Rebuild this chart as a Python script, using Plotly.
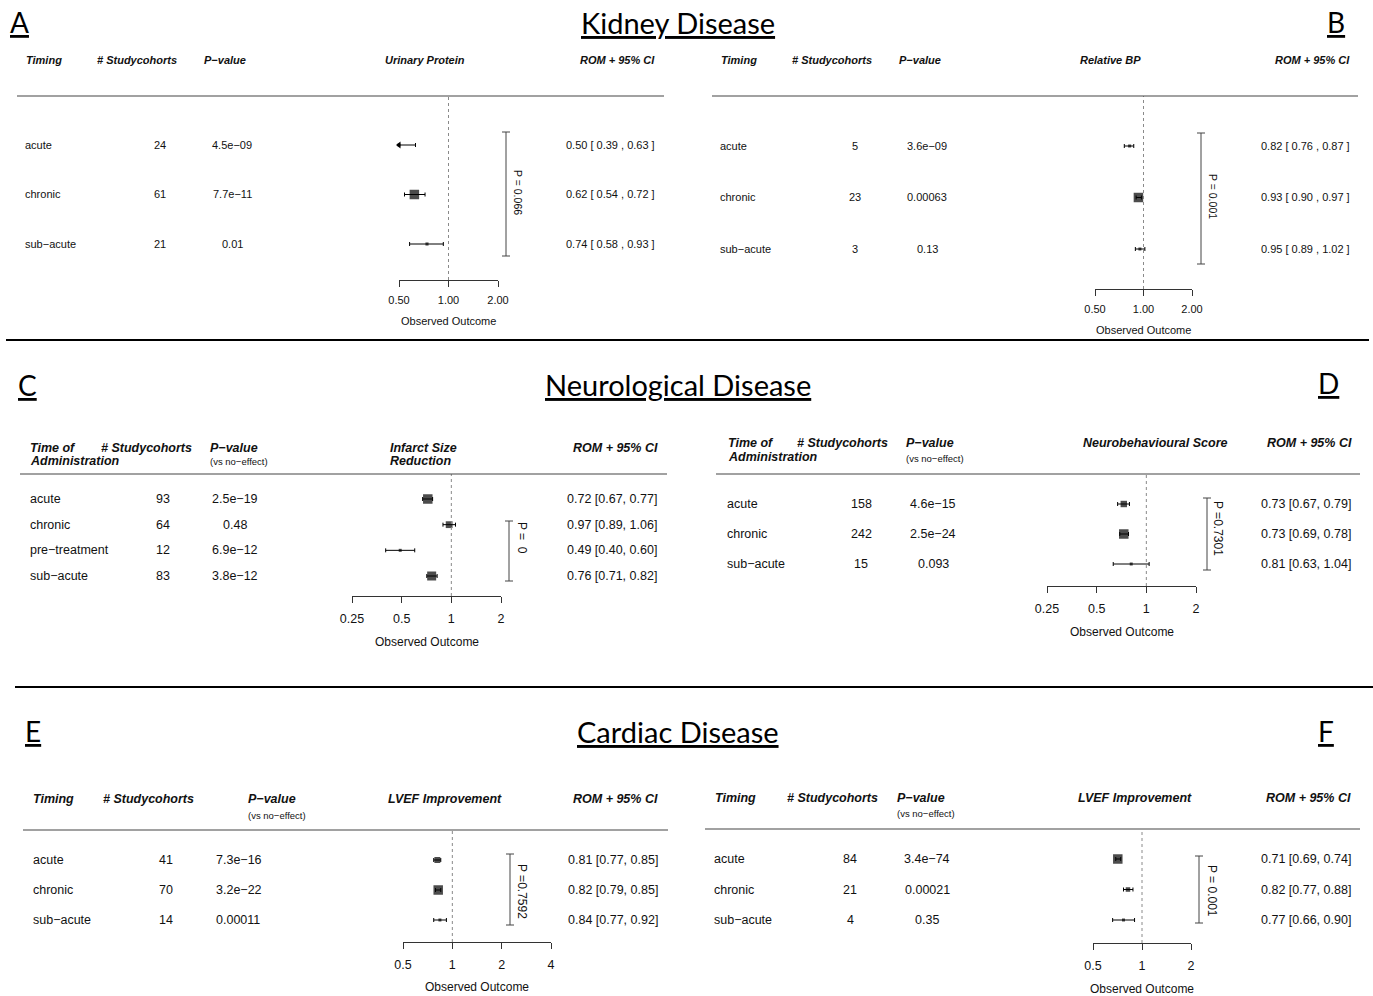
import math
import plotly.graph_objects as go

W, H = 1373, 996

# ---------------- data ----------------
A_timing = ["acute", "chronic", "sub−acute"]
A_n = [24, 61, 21]
A_p = ["4.5e−09", "7.7e−11", "0.01"]
A_rom = [0.50, 0.62, 0.74]
A_lo = [0.39, 0.54, 0.58]
A_hi = [0.63, 0.72, 0.93]
A_het = "P = 0.066"
A_outcome = ["Urinary Protein"]
A_ticks = [0.5, 1, 2]
A_ticklabels = ["0.50", "1.00", "2.00"]

B_timing = ["acute", "chronic", "sub−acute"]
B_n = [5, 23, 3]
B_p = ["3.6e−09", "0.00063", "0.13"]
B_rom = [0.82, 0.93, 0.95]
B_lo = [0.76, 0.90, 0.89]
B_hi = [0.87, 0.97, 1.02]
B_het = "P = 0.001"
B_outcome = ["Relative BP"]
B_ticks = [0.5, 1, 2]
B_ticklabels = ["0.50", "1.00", "2.00"]

C_timing = ["acute", "chronic", "pre−treatment", "sub−acute"]
C_n = [93, 64, 12, 83]
C_p = ["2.5e−19", "0.48", "6.9e−12", "3.8e−12"]
C_rom = [0.72, 0.97, 0.49, 0.76]
C_lo = [0.67, 0.89, 0.40, 0.71]
C_hi = [0.77, 1.06, 0.60, 0.82]
C_het = "P =  0"
C_outcome = ["Infarct Size", "Reduction"]
C_ticks = [0.25, 0.5, 1, 2]
C_ticklabels = ["0.25", "0.5", "1", "2"]

D_timing = ["acute", "chronic", "sub−acute"]
D_n = [158, 242, 15]
D_p = ["4.6e−15", "2.5e−24", "0.093"]
D_rom = [0.73, 0.73, 0.81]
D_lo = [0.67, 0.69, 0.63]
D_hi = [0.79, 0.78, 1.04]
D_het = "P =0.7301"
D_outcome = ["Neurobehavioural Score"]
D_ticks = [0.25, 0.5, 1, 2]
D_ticklabels = ["0.25", "0.5", "1", "2"]

E_timing = ["acute", "chronic", "sub−acute"]
E_n = [41, 70, 14]
E_p = ["7.3e−16", "3.2e−22", "0.00011"]
E_rom = [0.81, 0.82, 0.84]
E_lo = [0.77, 0.79, 0.77]
E_hi = [0.85, 0.85, 0.92]
E_het = "P =0.7592"
E_outcome = ["LVEF Improvement"]
E_ticks = [0.5, 1, 2, 4]
E_ticklabels = ["0.5", "1", "2", "4"]

F_timing = ["acute", "chronic", "sub−acute"]
F_n = [84, 21, 4]
F_p = ["3.4e−74", "0.00021", "0.35"]
F_rom = [0.71, 0.82, 0.77]
F_lo = [0.69, 0.77, 0.66]
F_hi = [0.74, 0.88, 0.90]
F_het = "P = 0.001"
F_outcome = ["LVEF Improvement"]
F_ticks = [0.5, 1, 2]
F_ticklabels = ["0.5", "1", "2"]

SECTION_TITLES = ["Kidney Disease", "Neurological Disease", "Cardiac Disease"]
PANEL_LETTERS = ["A", "B", "C", "D", "E", "F"]

# ---------------- styling / layout ----------------
SANS = "Liberation Sans, Arial, Helvetica, sans-serif"
TITLE_FONT = "Lato, Carlito, Calibri, sans-serif"
INK = "#111111"
AXC = "#333333"


def px(x):
    return x / W


def py(y):
    return 1 - y / H


def bi(t):
    return "<b><i>" + t + "</i></b>"


panels = [
    dict(timing=A_timing, n=A_n, p=A_p, rom=A_rom, lo=A_lo, hi=A_hi, het=A_het,
         ticks=A_ticks, ticklabels=A_ticklabels, wide=True,
         ax=(399, 498), line=280, top=96, rows=(145, 244), hline=(17, 664),
         cols=(23, 160, 232, 657), p_anchor="center", bracket=(506, 132, 256),
         hetpos=(518, 192), obs=321, fs=11, hfs=11, tfs=11, ofs=11, tso=4,
         headers=[(bi("Timing"), 24, 60, "left", "h"),
                  (bi("# Studycohorts"), 137, 60, "center", "h"),
                  (bi("P−value"), 225, 60, "center", "h"),
                  (bi(A_outcome[0]), 425, 60, "center", "h"),
                  (bi("ROM + 95% CI"), 657, 60, "right", "h")]),
    dict(timing=B_timing, n=B_n, p=B_p, rom=B_rom, lo=B_lo, hi=B_hi, het=B_het,
         ticks=B_ticks, ticklabels=B_ticklabels, wide=True,
         ax=(1095, 1192), line=289, top=96, rows=(146, 249), hline=(712, 1358),
         cols=(718, 855, 927, 1352), p_anchor="center", bracket=(1201, 133, 264),
         hetpos=(1213, 196), obs=330, fs=11, hfs=11, tfs=11, ofs=11, tso=4,
         headers=[(bi("Timing"), 719, 60, "left", "h"),
                  (bi("# Studycohorts"), 832, 60, "center", "h"),
                  (bi("P−value"), 920, 60, "center", "h"),
                  (bi(B_outcome[0]), 1110, 60, "center", "h"),
                  (bi("ROM + 95% CI"), 1352, 60, "right", "h")]),
    dict(timing=C_timing, n=C_n, p=C_p, rom=C_rom, lo=C_lo, hi=C_hi, het=C_het,
         ticks=C_ticks, ticklabels=C_ticklabels, wide=False,
         ax=(352, 501), line=596, top=474, rows=(499, 576), hline=(20, 667),
         cols=(28, 163, 235, 659), p_anchor="center", bracket=(509, 521, 581),
         hetpos=(522, 538), obs=642, fs=12.5, hfs=12.5, tfs=12.5, ofs=12, tso=5,
         headers=[(bi("Time of"), 28, 448, "left", "h"),
                  (bi("Administration"), 28, 461, "left", "h"),
                  (bi("# Studycohorts"), 146, 448, "center", "h"),
                  (bi("P−value"), 208, 448, "left", "h"),
                  ("(vs no−effect)", 208, 461, "left", "s"),
                  (bi(C_outcome[0]), 388, 448, "left", "h"),
                  (bi(C_outcome[1]), 388, 461, "left", "h"),
                  (bi("ROM + 95% CI"), 660, 448, "right", "h")]),
    dict(timing=D_timing, n=D_n, p=D_p, rom=D_rom, lo=D_lo, hi=D_hi, het=D_het,
         ticks=D_ticks, ticklabels=D_ticklabels, wide=False,
         ax=(1047, 1196), line=586, top=474, rows=(504, 564), hline=(716, 1360),
         cols=(725, 861, 933, 1353), p_anchor="center", bracket=(1207, 498, 570),
         hetpos=(1218, 528), obs=632, fs=12.5, hfs=12.5, tfs=12.5, ofs=12, tso=5,
         headers=[(bi("Time of"), 726, 443, "left", "h"),
                  (bi("Administration"), 726, 457, "left", "h"),
                  (bi("# Studycohorts"), 842, 443, "center", "h"),
                  (bi("P−value"), 904, 443, "left", "h"),
                  ("(vs no−effect)", 904, 459, "left", "s"),
                  (bi(D_outcome[0]), 1155, 443, "center", "h"),
                  (bi("ROM + 95% CI"), 1354, 443, "right", "h")]),
    dict(timing=E_timing, n=E_n, p=E_p, rom=E_rom, lo=E_lo, hi=E_hi, het=E_het,
         ticks=E_ticks, ticklabels=E_ticklabels, wide=False,
         ax=(403, 551), line=942, top=830, rows=(860, 920), hline=(23, 668),
         cols=(31, 166, 214, 660), p_anchor="left", bracket=(510, 854, 925),
         hetpos=(522, 891), obs=987, fs=12.5, hfs=12.5, tfs=12.5, ofs=12, tso=5,
         headers=[(bi("Timing"), 31, 799, "left", "h"),
                  (bi("# Studycohorts"), 148, 799, "center", "h"),
                  (bi("P−value"), 246, 799, "left", "h"),
                  ("(vs no−effect)", 246, 815, "left", "s"),
                  (bi(E_outcome[0]), 445, 799, "center", "h"),
                  (bi("ROM + 95% CI"), 660, 799, "right", "h")]),
    dict(timing=F_timing, n=F_n, p=F_p, rom=F_rom, lo=F_lo, hi=F_hi, het=F_het,
         ticks=F_ticks, ticklabels=F_ticklabels, wide=False,
         ax=(1093, 1191), line=943, top=829, rows=(859, 920), hline=(705, 1360),
         cols=(712, 850, 927, 1353), p_anchor="center", bracket=(1199, 856, 923),
         hetpos=(1212, 891), obs=989, fs=12.5, hfs=12.5, tfs=12.5, ofs=12, tso=5,
         headers=[(bi("Timing"), 713, 798, "left", "h"),
                  (bi("# Studycohorts"), 832, 798, "center", "h"),
                  (bi("P−value"), 895, 798, "left", "h"),
                  ("(vs no−effect)", 895, 813, "left", "s"),
                  (bi(F_outcome[0]), 1135, 798, "center", "h"),
                  (bi("ROM + 95% CI"), 1353, 798, "right", "h")]),
]


def box_sizes(lo, hi, smin=3.0, smax=9.5):
    # metafor-style: square size scales with inverse-variance weight
    w = [1.0 / ((math.log(h) - math.log(l)) / 3.92) ** 2 for l, h in zip(lo, hi)]
    wmin, wmax = min(w), max(w)
    return [smin + (smax - smin) * (v - wmin) / (wmax - wmin) for v in w]


fig = go.Figure()
layout = dict(width=W, height=H,
              margin=dict(l=0, r=0, t=0, b=0, pad=0, autoexpand=False),
              paper_bgcolor="white", plot_bgcolor="rgba(0,0,0,0)",
              showlegend=False)
annotations = []
shapes = []

for i, P in enumerate(panels):
    k = i + 1
    sfx = "" if k == 1 else str(k)
    xn, yn = "x" + sfx, "y" + sfx
    n = len(P["timing"])
    rows = list(range(n, 0, -1))
    first, last = P["rows"]
    step = (last - first) / (n - 1)

    def yval(pix, last=last, step=step):
        return 1 + (last - pix) / step

    tmin, tmax = P["ticks"][0], P["ticks"][-1]
    lo_d = [max(l, tmin) for l in P["lo"]]
    hi_d = [min(h, tmax) for h in P["hi"]]
    sizes = box_sizes(P["lo"], P["hi"])

    fig.add_trace(go.Scatter(
        x=P["rom"], y=rows, mode="markers", xaxis=xn, yaxis=yn,
        marker=dict(symbol="square", size=sizes, color="black", line=dict(width=0)),
        error_x=dict(type="data", symmetric=False,
                     array=[h - r for h, r in zip(hi_d, P["rom"])],
                     arrayminus=[r - l for r, l in zip(P["rom"], lo_d)],
                     thickness=1, width=2, color="black"),
        cliponaxis=False, hoverinfo="skip"))

    # arrows where a CI is truncated by the axis limits
    cl_x, cl_y, cl_s = [], [], []
    for r, l, h in zip(rows, P["lo"], P["hi"]):
        if l < tmin:
            cl_x.append(tmin); cl_y.append(r); cl_s.append("triangle-left")
        if h > tmax:
            cl_x.append(tmax); cl_y.append(r); cl_s.append("triangle-right")
    if cl_x:
        fig.add_trace(go.Scatter(x=cl_x, y=cl_y, mode="markers", xaxis=xn, yaxis=yn,
                                 marker=dict(symbol=cl_s, size=6, color="black"),
                                 cliponaxis=False, hoverinfo="skip"))

    layout["xaxis" + sfx] = dict(
        domain=[px(P["ax"][0]), px(P["ax"][1])], anchor=yn, type="log",
        range=[math.log10(tmin), math.log10(tmax)],
        tickvals=P["ticks"], ticktext=P["ticklabels"],
        showline=True, linecolor=AXC, linewidth=1, ticks="outside", ticklen=6,
        tickcolor=AXC, tickwidth=1, showgrid=False, zeroline=False,
        ticklabelstandoff=P["tso"], fixedrange=True, automargin=False,
        tickfont=dict(family=SANS, size=P["tfs"], color=INK))
    layout["yaxis" + sfx] = dict(
        domain=[py(P["line"]), py(P["top"])], anchor=xn,
        range=[yval(P["line"]), yval(P["top"])], visible=False,
        fixedrange=True, automargin=False)

    # reference line at ROM = 1
    shapes.append(dict(type="line", xref=xn, x0=1, x1=1,
                       yref=yn + " domain", y0=0, y1=1,
                       line=dict(color="#8a8a8a", width=1, dash="dot")))
    # header rule
    shapes.append(dict(type="line", xref="paper", yref="paper",
                       x0=px(P["hline"][0]), x1=px(P["hline"][1]),
                       y0=py(P["top"]), y1=py(P["top"]),
                       line=dict(color="#444444", width=1.2)))
    # heterogeneity bracket
    bx, by0, by1 = P["bracket"]
    shapes.append(dict(type="line", xref="paper", yref="paper",
                       x0=px(bx), x1=px(bx), y0=py(by0), y1=py(by1),
                       line=dict(color="#444444", width=1)))
    for yy in (by0, by1):
        shapes.append(dict(type="line", xref="paper", yref="paper",
                           x0=px(bx - 4), x1=px(bx + 4), y0=py(yy), y1=py(yy),
                           line=dict(color="#444444", width=1)))
    annotations.append(dict(text=P["het"], xref="paper", yref="paper",
                            x=px(P["hetpos"][0]), y=py(P["hetpos"][1]),
                            xanchor="center", yanchor="middle",
                            textangle=90, showarrow=False,
                            font=dict(family=SANS, size=P["fs"] - 0.5, color=INK)))

    # column headers
    for text, hx, hy, anchor, kind in P["headers"]:
        size = P["hfs"] if kind == "h" else 9.5
        annotations.append(dict(text=text, xref="paper", yref="paper",
                                x=px(hx), y=py(hy), xanchor=anchor, yanchor="middle",
                                showarrow=False,
                                font=dict(family=SANS, size=size, color=INK)))

    # table columns
    cL, cN, cP, cR = P["cols"]
    for r, t, nn, pv, rom, l, h in zip(rows, P["timing"], P["n"], P["p"],
                                        P["rom"], P["lo"], P["hi"]):
        if P["wide"]:
            rtxt = f"{rom:.2f} [ {l:.2f} , {h:.2f} ]"
        else:
            rtxt = f"{rom:.2f} [{l:.2f}, {h:.2f}]"
        for text, xx, anc in ((t, cL, "left"), (str(nn), cN, "center"),
                              (pv, cP, P["p_anchor"]), (rtxt, cR, "right")):
            annotations.append(dict(text=text, xref="paper", yref=yn,
                                    x=px(xx), y=r, xanchor=anc, yanchor="middle",
                                    showarrow=False,
                                    font=dict(family=SANS, size=P["fs"], color=INK)))

    # axis title
    annotations.append(dict(text="Observed Outcome", xref=xn + " domain", yref="paper",
                            x=0.5, y=py(P["obs"]), xanchor="center", yanchor="middle",
                            showarrow=False,
                            font=dict(family=SANS, size=P["ofs"], color=INK)))

# section titles and panel letters
for title, ty in zip(SECTION_TITLES, (22, 385, 731)):
    annotations.append(dict(text="<u>" + title + "</u>", xref="paper", yref="paper",
                            x=px(678), y=py(ty), xanchor="center", yanchor="middle",
                            showarrow=False,
                            font=dict(family=TITLE_FONT, size=29, color="black")))
for letter, (lx, ly) in zip(PANEL_LETTERS, [(19, 22), (1336, 22), (28, 385),
                                            (1328, 383), (33, 731), (1326, 731)]):
    annotations.append(dict(text="<u>" + letter + "</u>", xref="paper", yref="paper",
                            x=px(lx), y=py(ly), xanchor="center", yanchor="middle",
                            showarrow=False,
                            font=dict(family=TITLE_FONT, size=28, color="black")))

# section separators
shapes.append(dict(type="line", xref="paper", yref="paper", x0=px(6), x1=px(1369),
                   y0=py(340), y1=py(340), line=dict(color="black", width=2)))
shapes.append(dict(type="line", xref="paper", yref="paper", x0=px(15), x1=px(1373),
                   y0=py(687), y1=py(687), line=dict(color="black", width=2)))

layout["annotations"] = annotations
layout["shapes"] = shapes
fig.update_layout(**layout)
fig.write_html(
    "out.html",
    config={"displayModeBar": False},
    post_script=("document.body.style.margin='0';document.body.style.padding='0';"
                 "document.documentElement.style.overflow='hidden';"),
)
